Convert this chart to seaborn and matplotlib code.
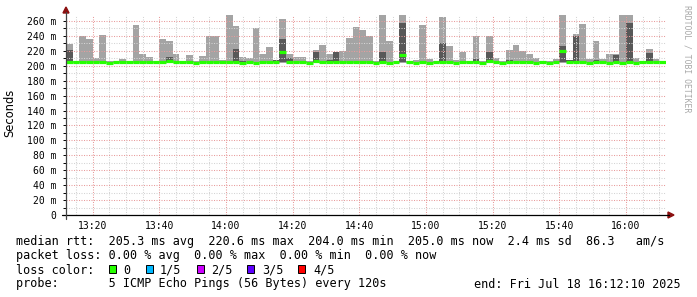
import numpy as np
import pandas as pd
import matplotlib
matplotlib.use("Agg")
import matplotlib.pyplot as plt
import seaborn as sns
from matplotlib.lines import Line2D
from matplotlib.patches import Rectangle, Polygon

# ---------------- data (ms) ----------------
# 2-minute slots from 13:12 to 16:12 (minutes after midnight)
slot_start = list(range(792, 972, 2))
slot_width = 2

# max ping (top of light smoke)
ping_max = [229, 206, 240, 236, 210, 241, 206, 206, 209, 206,
            255, 216, 212, 206, 236, 233, 216, 206, 215, 206,
            213, 240, 240, 208, 275, 253, 212, 210, 251, 216,
            225, 208, 263, 216, 212, 212, 206, 221, 228, 216,
            218, 220, 237, 252, 248, 240, 206, 275, 233, 207,
            275, 207, 208, 255, 209, 207, 265, 226, 208, 218,
            206, 240, 206, 240, 210, 206, 221, 228, 220, 216,
            210, 206, 206, 209, 275, 208, 243, 256, 209, 233,
            209, 216, 216, 275, 275, 210, 206, 222, 209, 206]
# min ping (bottom of light smoke)
ping_min = [204.0] * 90
# 4th ping (top of dark smoke)
ping_q4 = [221, 205, 205, 205, 205, 205, 205, 205, 205, 205,
           205, 205, 205, 205, 205, 212, 205, 205, 205, 205,
           205, 205, 205, 205, 205, 222, 207, 205, 205, 205,
           205, 208, 236, 210, 205, 205, 205, 218, 205, 208,
           218, 205, 205, 205, 205, 205, 205, 218, 205, 205,
           257, 205, 205, 205, 205, 205, 230, 205, 205, 205,
           205, 209, 205, 218, 205, 205, 208, 205, 205, 207,
           205, 205, 205, 205, 227, 208, 240, 205, 205, 208,
           205, 205, 215, 205, 257, 205, 205, 217, 205, 205]
# 2nd ping (bottom of dark smoke)
ping_q2 = [204.5] * 90
# median rtt
median = [205, 205, 205, 205, 205, 205, 203.5, 205, 205, 205,
          205, 205, 205, 205, 205, 207, 205, 205, 205, 203.5,
          205, 205, 205, 205, 205, 205, 203.5, 205, 203.5, 205,
          205, 205, 218, 205, 205, 205, 203.5, 207, 205, 205,
          205, 205, 205, 205, 205, 205, 203.5, 205, 203.5, 205,
          214, 205, 203.5, 205, 203.5, 205, 205, 205, 203.5, 205,
          205, 205, 203.5, 207, 205, 203.5, 205, 205, 205, 205,
          203.5, 205, 203.5, 205, 220, 205, 205, 205, 203.5, 205,
          205, 203.5, 205, 203.5, 205, 203.5, 205, 205, 205, 205]

x_tick_pos = [800, 820, 840, 860, 880, 900, 920, 940, 960]
x_tick_labels = ["13:20", "13:40", "14:00", "14:20", "14:40",
                 "15:00", "15:20", "15:40", "16:00"]
y_tick_pos = list(range(0, 261, 20))
y_tick_labels = ["0"] + [f"{v} m" for v in range(20, 261, 20)]

loss_labels = ["0", "1/5", "2/5", "3/5", "4/5"]
loss_colors = ["#26ff00", "#00b8ff", "#cc00ff", "#5e00ff", "#ff0000"]

# ---------------- figure ----------------
sns.set_theme(style="white")
plt.rcParams["font.family"] = ["DejaVu Sans Mono", "DejaVu Sans"]

W, H = 697, 297
fig = plt.figure(figsize=(W / 100, H / 100), dpi=100, facecolor="white")


def fx(px):
    return px / W


def fy(py):
    return 1 - py / H


ax = fig.add_axes([fx(66), fy(215), 600 / W, 200 / H])
ax.set_facecolor("white")

df = pd.DataFrame({"t": slot_start, "lo": ping_min, "hi": ping_max,
                   "q2": ping_q2, "q4": ping_q4, "med": median})

# smoke
ax.bar(df["t"], df["hi"] - df["lo"], bottom=df["lo"], width=slot_width,
       align="edge", color="#a4a4a4", linewidth=0, zorder=1)
ax.bar(df["t"], df["q4"] - df["q2"], bottom=df["q2"], width=slot_width,
       align="edge", color="#585858", linewidth=0, zorder=1.1)

# median: one short horizontal segment per slot (seaborn, one unit per slot)
seg = pd.DataFrame({
    "t": [t for t in slot_start for _ in (0, 1)],
    "med": [m for m in median for _ in (0, 1)],
    "slot": [i for i in range(len(slot_start)) for _ in (0, 1)],
})
seg.loc[1::2, "t"] = seg.loc[1::2, "t"] + slot_width
sns.lineplot(data=seg, x="t", y="med", units="slot", estimator=None, ax=ax,
             color=loss_colors[0], linewidth=2.3, zorder=3, sort=False,
             solid_capstyle="butt", legend=False)

ax.set_xlim(792, 972)
ax.set_ylim(0, 268)

ax.set_xticks(x_tick_pos)
ax.set_xticklabels(x_tick_labels)
ax.set_xticks([m for m in range(795, 972, 5) if m not in x_tick_pos], minor=True)
ax.set_yticks(y_tick_pos)
ax.set_yticklabels(y_tick_labels)
ax.set_yticks(list(range(10, 260, 20)), minor=True)

ax.grid(which="major", color="#e89c9c", linestyle=(0, (1, 1.4)), linewidth=0.75)
ax.grid(which="minor", color="#d4d4d4", linestyle=(0, (1, 1.4)), linewidth=0.75)
ax.set_axisbelow(False)

ax.tick_params(axis="both", which="both", labelsize=7, colors="#000000")
ax.tick_params(axis="y", which="major", length=2, width=0.7, pad=5, left=True)
ax.tick_params(axis="y", which="minor", length=2, width=0.7, left=True)
ax.tick_params(axis="x", which="both", length=0, pad=4.5)
for lab in ax.get_xticklabels() + ax.get_yticklabels():
    lab.set_family("DejaVu Sans Mono")

for s in ax.spines.values():
    s.set_visible(False)
ax.set_xlabel("")
ax.set_ylabel("")

# axes lines with arrows
fig.add_artist(Line2D([fx(62), fx(669)], [fy(215), fy(215)], color="#000000",
                      linewidth=0.9, transform=fig.transFigure))
fig.add_artist(Line2D([fx(66), fx(66)], [fy(219), fy(12)], color="#444444",
                      linewidth=0.9, transform=fig.transFigure))
fig.add_artist(Polygon([[fx(668), fy(212)], [fx(674), fy(215)], [fx(668), fy(218)]],
                       closed=True, color="#8b1010", transform=fig.transFigure))
fig.add_artist(Polygon([[fx(63), fy(13)], [fx(66), fy(7)], [fx(69), fy(13)]],
                       closed=True, color="#8b1010", transform=fig.transFigure))

# y label and watermark
fig.text(fx(10), fy(113), "Seconds", rotation=90, ha="center", va="center",
         fontsize=8.3, family="DejaVu Sans", color="#000000")
fig.text(fx(687), fy(5), "RRDTOOL / TOBI OETIKER", rotation=270, ha="center",
         va="top", fontsize=5.9, family="DejaVu Sans Mono", color="#a8a8a8")

# legend lines
fs = 8.5
fig.text(fx(16), fy(245.5),
         "median rtt:  205.3 ms avg  220.6 ms max  204.0 ms min  205.0 ms now  2.4 ms sd  86.3   am/s",
         fontsize=fs, va="baseline", ha="left", color="#000000")
fig.text(fx(16), fy(259.5),
         "packet loss: 0.00 % avg  0.00 % max  0.00 % min  0.00 % now",
         fontsize=fs, va="baseline", ha="left", color="#000000")
fig.text(fx(16), fy(273.5), "loss color:", fontsize=fs, va="baseline",
         ha="left", color="#000000")
sq_x = [109, 146, 197, 247, 298]
lab_x = [123, 160, 211, 262, 313]
for sx, lx, lab, col in zip(sq_x, lab_x, loss_labels, loss_colors):
    fig.add_artist(Rectangle((fx(sx), fy(273)), 7 / W, 8 / H, facecolor=col,
                             edgecolor="#000000", linewidth=0.7,
                             transform=fig.transFigure))
    fig.text(fx(lx), fy(273.5), lab, fontsize=fs, va="baseline", ha="left",
             color="#000000")
fig.text(fx(16), fy(287.5),
         "probe:       5 ICMP Echo Pings (56 Bytes) every 120s",
         fontsize=fs, va="baseline", ha="left", color="#000000")
fig.text(fx(681), fy(287.5), "end: Fri Jul 18 16:12:10 2025",
         fontsize=fs, va="baseline", ha="right", color="#000000")

fig.savefig("out.png", dpi=100, facecolor="white")
